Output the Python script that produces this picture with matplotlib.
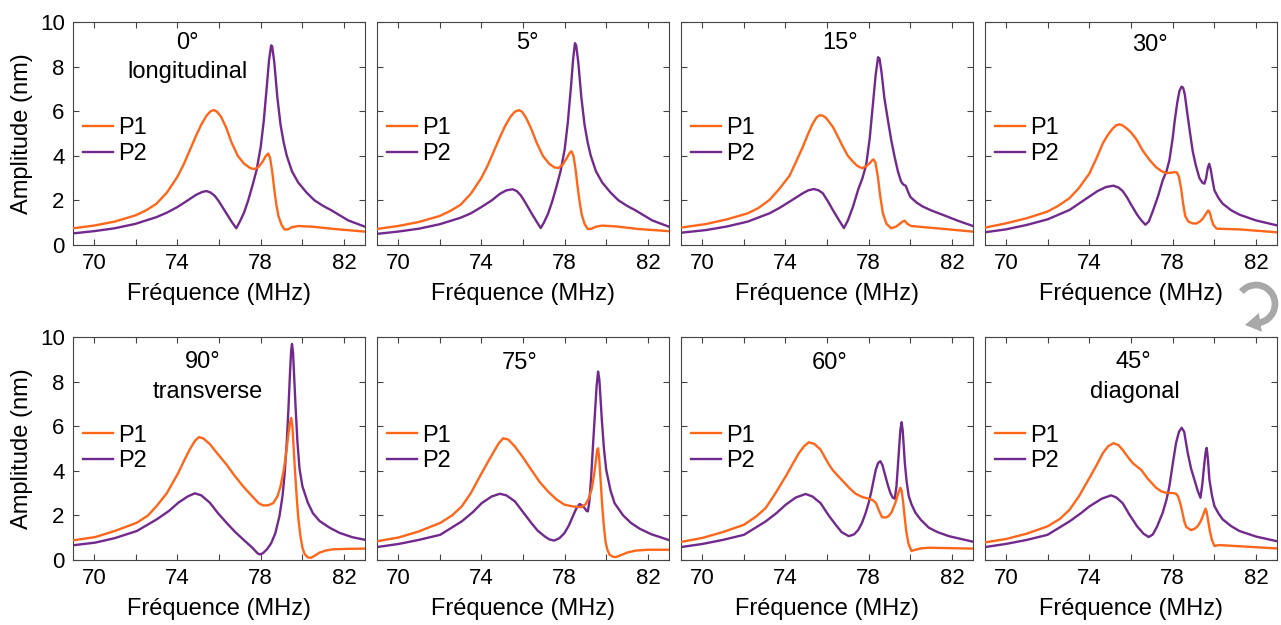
import matplotlib
matplotlib.use("Agg")
import matplotlib.pyplot as plt
from matplotlib.patches import FancyArrowPatch, Arc
from matplotlib.transforms import IdentityTransform

plt.rcParams['font.family'] = ['Liberation Sans', 'DejaVu Sans']

ORANGE = "#FF661A"
PURPLE = "#72298D"

# ---- values (frequency in MHz, amplitude in nm) ----
f_0_p1 = [69, 70, 71, 72, 72.5, 73, 73.5, 74, 74.3, 74.6, 74.9, 75.15, 75.4, 75.6, 75.75, 75.9, 76.1, 76.35,
          76.6, 76.9, 77.2, 77.5, 77.7, 77.9, 78.1, 78.25, 78.36, 78.45, 78.55, 78.65, 78.75, 78.85, 79.0,
          79.14, 79.3, 79.5, 79.8, 80.5, 81.5, 83]
a_0_p1 = [0.75, 0.87, 1.05, 1.33, 1.55, 1.85, 2.35, 3.05, 3.6, 4.25, 4.9, 5.4, 5.8, 6.0, 6.05, 5.98, 5.75, 5.25,
          4.6, 4.0, 3.65, 3.45, 3.4, 3.5, 3.75, 4.0, 4.1, 3.9, 3.3, 2.5, 1.8, 1.3, 0.9,
          0.7, 0.7, 0.8, 0.85, 0.82, 0.72, 0.6]
f_0_p2 = [69, 70, 71, 72, 73, 73.5, 74, 74.5, 74.9, 75.2, 75.4, 75.6, 75.8, 76.0, 76.2, 76.4, 76.6, 76.83,
          77.0, 77.2, 77.4, 77.6, 77.8, 78.0, 78.15, 78.3, 78.4, 78.5, 78.55, 78.65, 78.8, 78.95, 79.1,
          79.25, 79.5, 79.8, 80.2, 80.58, 81.0, 81.4, 82.2, 83]
a_0_p2 = [0.52, 0.62, 0.75, 0.95, 1.25, 1.45, 1.7, 2.0, 2.25, 2.38, 2.42, 2.35, 2.2, 1.95, 1.65, 1.35, 1.05, 0.75,
          1.05, 1.45, 2.0, 2.65, 3.35, 4.4, 5.6, 7.2, 8.3, 8.95, 8.9, 8.2, 6.6, 5.4, 4.6,
          4.0, 3.3, 2.8, 2.35, 2.0, 1.75, 1.55, 1.1, 0.82]

f_5_p1 = [69, 70, 71, 72, 72.5, 73, 73.5, 74, 74.3, 74.6, 74.9, 75.15, 75.4, 75.6, 75.8, 75.95, 76.15, 76.4,
          76.65, 76.95, 77.25, 77.5, 77.7, 77.9, 78.1, 78.25, 78.33, 78.42, 78.52, 78.62, 78.72, 78.82,
          78.95, 79.1, 79.25, 79.5, 79.8, 80.5, 81.5, 83]
a_5_p1 = [0.72, 0.85, 1.03, 1.3, 1.52, 1.8, 2.3, 3.0, 3.55, 4.2, 4.85, 5.35, 5.75, 5.97, 6.05, 5.98, 5.7, 5.2,
          4.6, 4.0, 3.65, 3.48, 3.45, 3.6, 3.9, 4.15, 4.2, 4.0, 3.4, 2.6, 1.9, 1.35,
          0.95, 0.72, 0.72, 0.82, 0.87, 0.83, 0.72, 0.62]
f_5_p2 = [69, 70, 71, 72, 73, 73.5, 74, 74.5, 74.9, 75.2, 75.5, 75.7, 75.9, 76.1, 76.3, 76.5, 76.7, 76.85,
          77.0, 77.2, 77.4, 77.6, 77.8, 78.0, 78.15, 78.3, 78.4, 78.49, 78.55, 78.65, 78.8, 78.95, 79.1,
          79.25, 79.5, 79.8, 80.2, 80.58, 81.0, 81.4, 82.2, 83]
a_5_p2 = [0.5, 0.6, 0.73, 0.93, 1.22, 1.42, 1.7, 2.0, 2.3, 2.45, 2.5, 2.42, 2.22, 1.92, 1.6, 1.28, 0.98, 0.76,
          1.0, 1.4, 1.95, 2.6, 3.3, 4.3, 5.5, 7.1, 8.3, 9.05, 8.95, 8.2, 6.6, 5.4, 4.6,
          4.0, 3.3, 2.8, 2.35, 2.0, 1.75, 1.55, 1.1, 0.82]

f_15_p1 = [69, 70.2, 71.2, 72.2, 72.7, 73.24, 73.7, 74.2, 74.5, 74.84, 75.1, 75.32, 75.5, 75.65, 75.8, 75.95,
           76.1, 76.28, 76.5, 76.76, 77.0, 77.24, 77.45, 77.69, 77.9, 78.04, 78.15, 78.23, 78.32, 78.44,
           78.55, 78.68, 78.85, 79.08, 79.3, 79.48, 79.62, 79.72, 79.85, 80.04, 81.5, 83]
a_15_p1 = [0.78, 0.94, 1.15, 1.42, 1.65, 2.02, 2.5, 3.1, 3.7, 4.4, 5.0, 5.45, 5.72, 5.82, 5.8, 5.7,
           5.52, 5.3, 4.9, 4.41, 4.0, 3.74, 3.55, 3.44, 3.55, 3.66, 3.78, 3.84, 3.7, 3.06,
           2.2, 1.42, 0.95, 0.75, 0.82, 0.94, 1.05, 1.09, 0.95, 0.85, 0.73, 0.6]
f_15_p2 = [69, 70.2, 71.2, 72.2, 73.24, 73.7, 74.2, 74.84, 75.1, 75.37, 75.6, 75.8, 76.05, 76.28, 76.55,
           76.81, 77.0, 77.24, 77.5, 77.7, 77.88, 78.05, 78.2, 78.33, 78.45, 78.52, 78.62, 78.75, 78.92,
           79.08, 79.24, 79.4, 79.55, 79.65, 79.78, 79.88, 80.0, 80.3, 80.6, 81.0, 81.56, 82.3, 83]
a_15_p2 = [0.55, 0.67, 0.83, 1.05, 1.42, 1.65, 1.94, 2.32, 2.45, 2.51, 2.45, 2.32, 1.95, 1.57, 1.15,
           0.76, 1.1, 1.7, 2.5, 3.0, 3.6, 4.8, 6.3, 7.6, 8.42, 8.35, 7.7, 6.6, 5.6,
           4.7, 3.96, 3.3, 2.85, 2.72, 2.65, 2.4, 2.15, 1.9, 1.72, 1.55, 1.35, 1.08, 0.85]

f_30_p1 = [69, 70, 71, 72, 72.5, 73.05, 73.5, 74.0, 74.35, 74.65, 74.9, 75.13, 75.3, 75.45, 75.6, 75.8,
           76.0, 76.25, 76.56, 76.9, 77.2, 77.45, 77.68, 77.9, 78.1, 78.2, 78.3, 78.4, 78.5, 78.6, 78.75,
           78.95, 79.12, 79.3, 79.44, 79.58, 79.7, 79.78, 79.86, 79.95, 80.11, 81.2, 83]
a_30_p1 = [0.78, 0.97, 1.2, 1.5, 1.75, 2.1, 2.55, 3.2, 3.9, 4.56, 4.95, 5.23, 5.37, 5.41, 5.36, 5.22,
           5.05, 4.75, 4.24, 3.8, 3.49, 3.32, 3.22, 3.24, 3.27, 3.25, 3.05, 2.55, 1.85, 1.3, 1.05,
           0.97, 0.96, 1.05, 1.18, 1.38, 1.55, 1.45, 1.15, 0.9, 0.73, 0.7, 0.57]
f_30_p2 = [69, 70, 71, 72, 73.05, 74.0, 74.4, 74.8, 75.16, 75.4, 75.6, 75.8, 76.0, 76.3, 76.5, 76.69,
           76.85, 77.04, 77.3, 77.52, 77.7, 77.84, 78.0, 78.1, 78.22, 78.32, 78.42, 78.5, 78.58, 78.7,
           78.85, 78.96, 79.1, 79.28, 79.42, 79.52, 79.6, 79.68, 79.75, 79.82, 79.9, 80.0, 80.2, 80.4,
           80.8, 81.2, 82.0, 83]
a_30_p2 = [0.57, 0.7, 0.9, 1.15, 1.57, 2.17, 2.42, 2.6, 2.66, 2.58, 2.42, 2.15, 1.82, 1.35, 1.1, 0.91,
           1.05, 1.5, 2.2, 2.9, 3.3, 3.8, 4.8, 5.6, 6.4, 6.9, 7.1, 7.05, 6.75, 5.9,
           4.9, 4.2, 3.6, 3.0, 2.8, 2.75, 3.0, 3.45, 3.64, 3.4, 2.95, 2.45, 2.1, 1.85,
           1.56, 1.36, 1.1, 0.88]

f_90_p1 = [69, 70.07, 71, 72.06, 72.6, 73.01, 73.5, 74.05, 74.35, 74.6, 74.85, 75.04, 75.25, 75.56, 75.9,
           76.36, 76.75, 77.15, 77.6, 77.9, 78.1, 78.35, 78.6, 78.8, 78.95, 79.1, 79.22, 79.32, 79.4,
           79.46, 79.52, 79.58, 79.65, 79.72, 79.8, 79.9, 80.0, 80.1, 80.25, 80.42, 80.6, 80.82, 81.1,
           81.45, 82.2, 83.03]
a_90_p1 = [0.88, 1.03, 1.3, 1.67, 2.0, 2.42, 3.0, 3.91, 4.5, 4.96, 5.35, 5.51, 5.45, 5.2, 4.8,
           4.28, 3.78, 3.31, 2.85, 2.55, 2.45, 2.45, 2.55, 2.85, 3.3, 4.0, 4.8, 5.6, 6.1,
           6.37, 6.0, 5.0, 3.9, 2.9, 1.9, 1.1, 0.55, 0.28, 0.12, 0.1, 0.2, 0.33, 0.42,
           0.48, 0.5, 0.51]
f_90_p2 = [69, 70.07, 71, 72.06, 73.01, 73.6, 74.05, 74.5, 74.84, 75.15, 75.56, 75.95, 76.36, 76.75, 77.15,
           77.6, 77.85, 77.95, 78.1, 78.3, 78.5, 78.7, 78.9, 79.05, 79.15, 79.25, 79.33, 79.4, 79.46,
           79.5, 79.55, 79.6, 79.67, 79.76, 79.86, 80.0, 80.26, 80.5, 80.82, 81.3, 81.77, 82.4, 83.03]
a_90_p2 = [0.66, 0.78, 0.98, 1.3, 1.82, 2.2, 2.57, 2.85, 2.99, 2.9, 2.57, 2.1, 1.67, 1.28, 0.93,
           0.55, 0.3, 0.25, 0.3, 0.48, 0.75, 1.2, 1.97, 2.9, 3.9, 5.3, 6.8, 8.3, 9.4,
           9.69, 9.3, 8.3, 6.9, 5.3, 4.1, 3.3, 2.57, 2.1, 1.75, 1.45, 1.22, 1.02, 0.9]

f_75_p1 = [69, 70.04, 71, 72.03, 72.6, 73.06, 73.5, 74.02, 74.35, 74.65, 74.85, 75.05, 75.3, 75.61, 76.0,
           76.4, 76.8, 77.2, 77.6, 77.99, 78.4, 78.79, 79.0, 79.15, 79.3, 79.42, 79.5, 79.56, 79.6, 79.65,
           79.72, 79.8, 79.88, 79.96, 80.05, 80.15, 80.3, 80.45, 80.7, 81.02, 81.4, 81.98, 83.04]
a_75_p1 = [0.84, 1.01, 1.28, 1.66, 2.0, 2.4, 3.0, 3.9, 4.45, 4.94, 5.25, 5.46, 5.4, 5.09, 4.6,
           4.04, 3.5, 3.07, 2.72, 2.48, 2.4, 2.37, 2.5, 2.75, 3.2, 3.9, 4.5, 4.95, 5.01, 4.6,
           3.6, 2.4, 1.5, 0.8, 0.45, 0.24, 0.15, 0.13, 0.22, 0.34, 0.42, 0.46, 0.46]
f_75_p2 = [69, 70.04, 71, 72.03, 73.06, 73.6, 74.02, 74.5, 74.89, 75.2, 75.61, 76.0, 76.4, 76.7, 77.04,
           77.25, 77.49, 77.75, 77.99, 78.2, 78.39, 78.55, 78.71, 78.83, 78.95, 79.05, 79.11, 79.18, 79.27,
           79.36, 79.43, 79.53, 79.6, 79.66, 79.72, 79.78, 79.88, 79.99, 80.2, 80.39, 80.8, 81.18, 81.6,
           82.14, 83.04]
a_75_p2 = [0.58, 0.72, 0.9, 1.13, 1.73, 2.15, 2.55, 2.85, 2.97, 2.9, 2.63, 2.15, 1.66, 1.32, 1.06,
           0.93, 0.87, 0.98, 1.21, 1.55, 1.96, 2.3, 2.51, 2.45, 2.33, 2.2, 2.18, 2.6, 3.75,
           5.2, 6.28, 7.8, 8.45, 8.1, 7.2, 6.28, 5.0, 4.04, 3.1, 2.55, 2.0, 1.66, 1.4,
           1.16, 0.88]

f_60_p1 = [69, 70.03, 71, 72.02, 72.6, 73.06, 73.5, 74.02, 74.35, 74.65, 74.9, 75.13, 75.4, 75.69, 75.9,
           76.08, 76.3, 76.55, 76.8, 77.1, 77.36, 77.7, 78.0, 78.2, 78.35, 78.5, 78.64, 78.8, 78.96, 79.1,
           79.28, 79.42, 79.52, 79.58, 79.65, 79.72, 79.8, 79.9, 80.05, 80.2, 80.5, 80.88, 82, 83]
a_60_p1 = [0.81, 0.99, 1.25, 1.58, 1.95, 2.33, 2.95, 3.75, 4.3, 4.79, 5.1, 5.28, 5.2, 4.95, 4.6,
           4.3, 4.0, 3.75, 3.5, 3.2, 2.98, 2.82, 2.75, 2.68, 2.55, 2.2, 1.92, 1.9, 1.97, 2.15,
           2.57, 3.0, 3.24, 3.1, 2.6, 1.95, 1.3, 0.75, 0.4, 0.45, 0.52, 0.55, 0.53, 0.51]
f_60_p2 = [69, 70.03, 71, 72.02, 73.06, 73.6, 74.02, 74.5, 74.97, 75.3, 75.69, 76.08, 76.4, 76.7, 77.04,
           77.3, 77.5, 77.68, 77.85, 78.0, 78.12, 78.24, 78.34, 78.45, 78.56, 78.66, 78.8, 78.92, 79.04,
           79.15, 79.25, 79.33, 79.41, 79.47, 79.52, 79.58, 79.63, 79.68, 79.73, 79.82, 79.92, 80.05,
           80.24, 80.5, 80.88, 81.3, 81.84, 83]
a_60_p2 = [0.58, 0.72, 0.9, 1.13, 1.73, 2.12, 2.48, 2.8, 2.96, 2.85, 2.55, 2.0, 1.6, 1.25, 1.07,
           1.15, 1.35, 1.67, 2.1, 2.57, 3.05, 3.6, 4.05, 4.35, 4.43, 4.25, 3.76, 3.35, 3.0,
           2.8, 2.75, 3.3, 4.36, 5.2, 5.85, 6.18, 5.8, 5.1, 4.36, 3.5, 2.87, 2.5,
           2.12, 1.8, 1.45, 1.25, 1.07, 0.82]

f_45_p1 = [69, 70, 71, 72, 72.6, 73.05, 73.5, 74.0, 74.35, 74.65, 74.9, 75.16, 75.4, 75.6, 75.85, 76.09,
           76.3, 76.49, 76.8, 77.2, 77.45, 77.68, 78.0, 78.15, 78.26, 78.36, 78.45, 78.55, 78.65, 78.88,
           79.05, 79.2, 79.35, 79.47, 79.57, 79.63, 79.7, 79.78, 79.88, 80.0, 80.24, 81.5, 82.96]
a_45_p1 = [0.79, 0.94, 1.18, 1.51, 1.85, 2.25, 2.85, 3.67, 4.25, 4.79, 5.1, 5.24, 5.15, 4.94, 4.62, 4.34,
           4.18, 4.04, 3.65, 3.24, 3.08, 3.01, 3.0, 2.98, 2.85, 2.55, 2.2, 1.75, 1.48, 1.34,
           1.4, 1.52, 1.75, 2.04, 2.3, 2.15, 1.75, 1.3, 0.9, 0.63, 0.67, 0.6, 0.52]
f_45_p2 = [69, 70, 71, 72, 73.05, 73.6, 74.0, 74.6, 75.05, 75.3, 75.6, 75.92, 76.3, 76.6, 76.85, 77.05,
           77.25, 77.52, 77.7, 77.84, 78.0, 78.16, 78.3, 78.43, 78.55, 78.72, 78.88, 79.04, 79.2, 79.33,
           79.42, 79.52, 79.58, 79.63, 79.69, 79.76, 79.88, 80.0, 80.2, 80.4, 80.8, 81.2, 82.0, 82.96]
a_45_p2 = [0.58, 0.72, 0.9, 1.13, 1.73, 2.1, 2.4, 2.75, 2.9, 2.8, 2.55, 2.04, 1.5, 1.18, 1.03, 1.15,
           1.5, 2.12, 2.7, 3.31, 4.3, 5.25, 5.75, 5.93, 5.75, 4.8, 4.1, 3.6, 3.1, 2.79,
           3.4, 4.36, 4.85, 5.03, 4.5, 3.6, 2.9, 2.42, 2.08, 1.82, 1.52, 1.3, 1.05, 0.85]

# panel order, left to right, top row then bottom row
angles = ["0°", "5°", "15°", "30°", "90°", "75°", "60°", "45°"]
subtitles = ["longitudinal", "", "", "", "transverse", "", "", "diagonal"]
curves = [
    (f_0_p1, a_0_p1, f_0_p2, a_0_p2),
    (f_5_p1, a_5_p1, f_5_p2, a_5_p2),
    (f_15_p1, a_15_p1, f_15_p2, a_15_p2),
    (f_30_p1, a_30_p1, f_30_p2, a_30_p2),
    (f_90_p1, a_90_p1, f_90_p2, a_90_p2),
    (f_75_p1, a_75_p1, f_75_p2, a_75_p2),
    (f_60_p1, a_60_p1, f_60_p2, a_60_p2),
    (f_45_p1, a_45_p1, f_45_p2, a_45_p2),
]
# where the angle label sits (axes fraction)
label_x = [0.39, 0.514, 0.545, 0.565, 0.445, 0.49, 0.51, 0.507]
label_y = [0.906, 0.906, 0.906, 0.897, 0.889, 0.883, 0.883, 0.889]
sub_x = [0.392, 0, 0, 0, 0.462, 0, 0, 0.514]
sub_y = [0.776, 0, 0, 0, 0.755, 0, 0, 0.755]

fig = plt.figure(figsize=(12.81, 6.25), dpi=100)

lefts = [73, 377, 681, 985]
W, H = 292, 223
tops = [22, 337]

FS = 17
for i in range(8):
    row, col = divmod(i, 4)
    x0 = lefts[col] / 1281
    y0 = 1 - (tops[row] + H) / 625
    ax = fig.add_axes([x0, y0, W / 1281, H / 625])
    f1, a1, f2, a2 = curves[i]
    ax.plot(f1, a1, color=ORANGE, lw=1.7, label="P1", zorder=3)
    ax.plot(f2, a2, color=PURPLE, lw=1.7, label="P2", zorder=2)

    ax.set_xlim(69, 83)
    ax.set_ylim(0, 10)
    ax.set_xticks([70, 72, 74, 76, 78, 80, 82])
    ax.set_xticklabels(["70", "", "74", "", "78", "", "82"])
    ax.set_yticks([0, 2, 4, 6, 8, 10])
    ax.tick_params(direction="in", top=True, right=True, length=4, width=0.8,
                   color="#444444", labelsize=16, pad=6)
    for s in ax.spines.values():
        s.set_color("#444444")
        s.set_linewidth(0.8)
    ax.set_xlabel("Fréquence (MHz)", fontsize=FS, labelpad=6)
    if col == 0:
        ax.set_ylabel("Amplitude (nm)", fontsize=FS, labelpad=5)
    else:
        ax.set_yticklabels([])

    ax.text(label_x[i], label_y[i], angles[i], transform=ax.transAxes,
            ha="center", va="center", fontsize=FS)
    if subtitles[i]:
        ax.text(sub_x[i], sub_y[i], subtitles[i], transform=ax.transAxes,
                ha="center", va="center", fontsize=FS)

    leg_y = 0.572 if row == 0 else 0.607
    ax.legend(loc="upper left", bbox_to_anchor=(0.034, leg_y), frameon=False,
              fontsize=FS, handlelength=1.27, handletextpad=0.2, labelspacing=0.15,
              borderaxespad=0, borderpad=0)

# curved grey arrow between the rows, on the right (pixel coordinates, y up)
GREY = "#A8A8A8"
band = Arc((1256, 321), 38, 38, theta1=-80, theta2=140, lw=4.8, color=GREY,
           transform=IdentityTransform(), capstyle="butt")
fig.add_artist(band)
head = FancyArrowPatch((1260, 302.5), (1245, 300), transform=IdentityTransform(),
                       arrowstyle="simple,head_width=0.85,head_length=0.7,tail_width=0.1",
                       mutation_scale=16, color=GREY, lw=0, shrinkA=0, shrinkB=0)
fig.add_artist(head)

fig.savefig("out.png", dpi=100)
